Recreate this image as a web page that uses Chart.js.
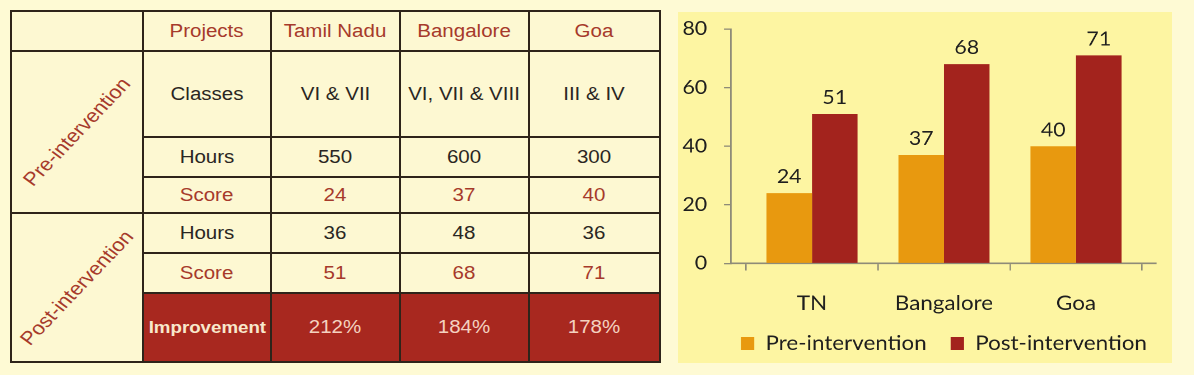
<!DOCTYPE html>
<html>
<head>
<meta charset="utf-8">
<script src="https://cdn.jsdelivr.net/npm/chart.js@4.4.1/dist/chart.umd.min.js"></script>
<style>
  html, body { margin:0; padding:0; background:#fefad4; width:1194px; height:375px; overflow:hidden; }
  #tbl { position:absolute; left:10px; top:10px; border-collapse:collapse; table-layout:fixed; width:651px;
         font-family:"Liberation Sans", Arial, sans-serif; font-size:18px; color:#2a2622; background:#fdf8d2; }
  #tbl td { border:2px solid #2e241a; text-align:center; vertical-align:middle; padding:0; white-space:nowrap; overflow:visible; }
  #tbl td span.s { display:inline-block; transform:scaleX(1.14); }
  #tbl td.red { color:#a63a2b; }
  #tbl td.imp { background:#a8281f; color:#f4d2c0; }
  #tbl td.imp.lab { color:#f8e8cc; font-weight:bold; font-size:17px; }
  #tbl td.imp.lab span.s { transform:scaleX(1.1); }
  #tbl td.rot { position:relative; }
  #tbl td.rot div { position:absolute; left:50%; top:50%; white-space:nowrap; color:#a63a2b; font-size:19px;
                    transform:translate(-50%,-50%) scaleX(1.14) rotate(-50deg); }
  #box { position:absolute; left:678px; top:12px; width:494px; height:351px; background:#fdf5a2; }
  #cwrap { position:absolute; left:678px; top:12px; width:441px; height:360px; transform:scaleX(1.12); transform-origin:0 0; }
</style>
</head>
<body>
<table id="tbl">
  <colgroup><col style="width:132px"><col style="width:128px"><col style="width:129px"><col style="width:129px"><col style="width:131px"></colgroup>
  <tbody id="tb"></tbody>
</table>
<div id="box"></div>
<div id="cwrap"><canvas id="c"></canvas></div>
<script>
// ---- table data ----
const projects = ['Tamil Nadu', 'Bangalore', 'Goa'];
const classes = ['VI & VII', 'VI, VII & VIII', 'III & IV'];
const preHours = [550, 600, 300];
const postHours = [36, 48, 36];
const improvement = ['212%', '184%', '178%'];
const phaseNames = ['Pre-intervention', 'Post-intervention'];

// ---- chart data ----
const categories = ['TN', 'Bangalore', 'Goa'];
const seriesNames = ['Pre-intervention', 'Post-intervention'];
const preScores = [24, 37, 40];
const postScores = [51, 68, 71];
const yTickValues = [0, 20, 40, 60, 80];

// ---- build table ----
const tb = document.getElementById('tb');
function cell(text, cls) {
  const td = document.createElement('td');
  if (cls) td.className = cls;
  const sp = document.createElement('span');
  sp.className = 's';
  sp.textContent = text;
  td.appendChild(sp);
  return td;
}
function row(h) { const tr = document.createElement('tr'); tr.style.height = h + 'px'; tb.appendChild(tr); return tr; }
function rotCell(text, span) {
  const td = document.createElement('td');
  td.className = 'rot'; td.rowSpan = span;
  const d = document.createElement('div'); d.textContent = text; td.appendChild(d);
  return td;
}
let tr = row(40);
tr.appendChild(cell('', ''));
tr.appendChild(cell('Projects', 'red'));
projects.forEach(p => tr.appendChild(cell(p, 'red')));
tr = row(86);
tr.appendChild(rotCell(phaseNames[0], 3));
tr.appendChild(cell('Classes'));
classes.forEach(c => tr.appendChild(cell(c)));
tr = row(40);
tr.appendChild(cell('Hours'));
preHours.forEach(v => tr.appendChild(cell(String(v))));
tr = row(36);
tr.appendChild(cell('Score', 'red'));
preScores.forEach(v => tr.appendChild(cell(String(v), 'red')));
tr = row(40);
tr.appendChild(rotCell(phaseNames[1], 3));
tr.appendChild(cell('Hours'));
postHours.forEach(v => tr.appendChild(cell(String(v))));
tr = row(40);
tr.appendChild(cell('Score', 'red'));
postScores.forEach(v => tr.appendChild(cell(String(v), 'red')));
tr = row(69);
tr.appendChild(cell('Improvement', 'imp lab'));
improvement.forEach(v => tr.appendChild(cell(v, 'imp')));

// ---- chart ----
const axisGrey = '#8e8b78';
const valueLabels = {
  id: 'valueLabels',
  afterDatasetsDraw(chart) {
    const ctx = chart.ctx;
    ctx.save();
    ctx.font = '19px Lato';
    ctx.fillStyle = '#1e1e1e';
    ctx.textAlign = 'center';
    ctx.textBaseline = 'alphabetic';
    chart.data.datasets.forEach((ds, i) => {
      chart.getDatasetMeta(i).data.forEach((bar, j) => {
        ctx.fillText(String(ds.data[j]), bar.x, bar.y - 10);
      });
    });
    ctx.restore();
  }
};
// nudge the legend row so it sits under the plot like the original
const legendShift = {
  id: 'legendShift',
  afterLayout(chart) {
    const lg = chart.legend;
    if (lg) { lg.left += 24; lg.right += 24; lg.top -= 7.4; lg.bottom -= 7.4; }
  }
};

new Chart(document.getElementById('c'), {
  type: 'bar',
  data: {
    labels: categories,
    datasets: [
      { label: seriesNames[0], data: preScores, backgroundColor: '#e8990f', borderWidth: 0 },
      { label: seriesNames[1], data: postScores, backgroundColor: '#a3231d', borderWidth: 0 }
    ]
  },
  options: {
    responsive: true,
    maintainAspectRatio: false,
    devicePixelRatio: 2,
    animation: false,
    layout: { padding: { top: 17, right: 14.2, bottom: 1.1, left: 0 } },
    datasets: { bar: { categoryPercentage: 0.69, barPercentage: 1.0 } },
    plugins: {
      legend: {
        position: 'bottom',
        labels: {
          boxWidth: 12, boxHeight: 13, padding: 21.4,
          color: '#1e1e1e',
          font: { family: 'Lato', size: 20 }
        }
      },
      tooltip: { enabled: false },
      title: { display: false }
    },
    scales: {
      x: {
        afterBuildTicks: (s) => { s._startValue = -0.6136; s._valueRange = 3.2197; },
        afterFit: (s) => { s.height = 56; },
        grid: { display: true, drawOnChartArea: false, drawTicks: true, tickLength: 7, color: axisGrey, lineWidth: 1.3 },
        border: { display: true, color: axisGrey, width: 1.6 },
        ticks: { color: '#1e1e1e', font: { family: 'Lato', size: 20 }, padding: 21, maxRotation: 0 }
      },
      y: {
        min: 0, max: 80,
        afterBuildTicks: (s) => { s.ticks = yTickValues.map(v => ({ value: v })); },
        afterFit: (s) => { s.width = 47.3; },
        grid: { display: true, drawOnChartArea: false, drawTicks: true, tickLength: 6.25, color: axisGrey, lineWidth: 1.3 },
        border: { display: true, color: axisGrey, width: 1.4 },
        ticks: { color: '#1e1e1e', font: { family: 'Lato', size: 19, lineHeight: 0.1 }, padding: 15 }
      }
    }
  },
  plugins: [valueLabels, legendShift]
});
</script>
</body>
</html>
